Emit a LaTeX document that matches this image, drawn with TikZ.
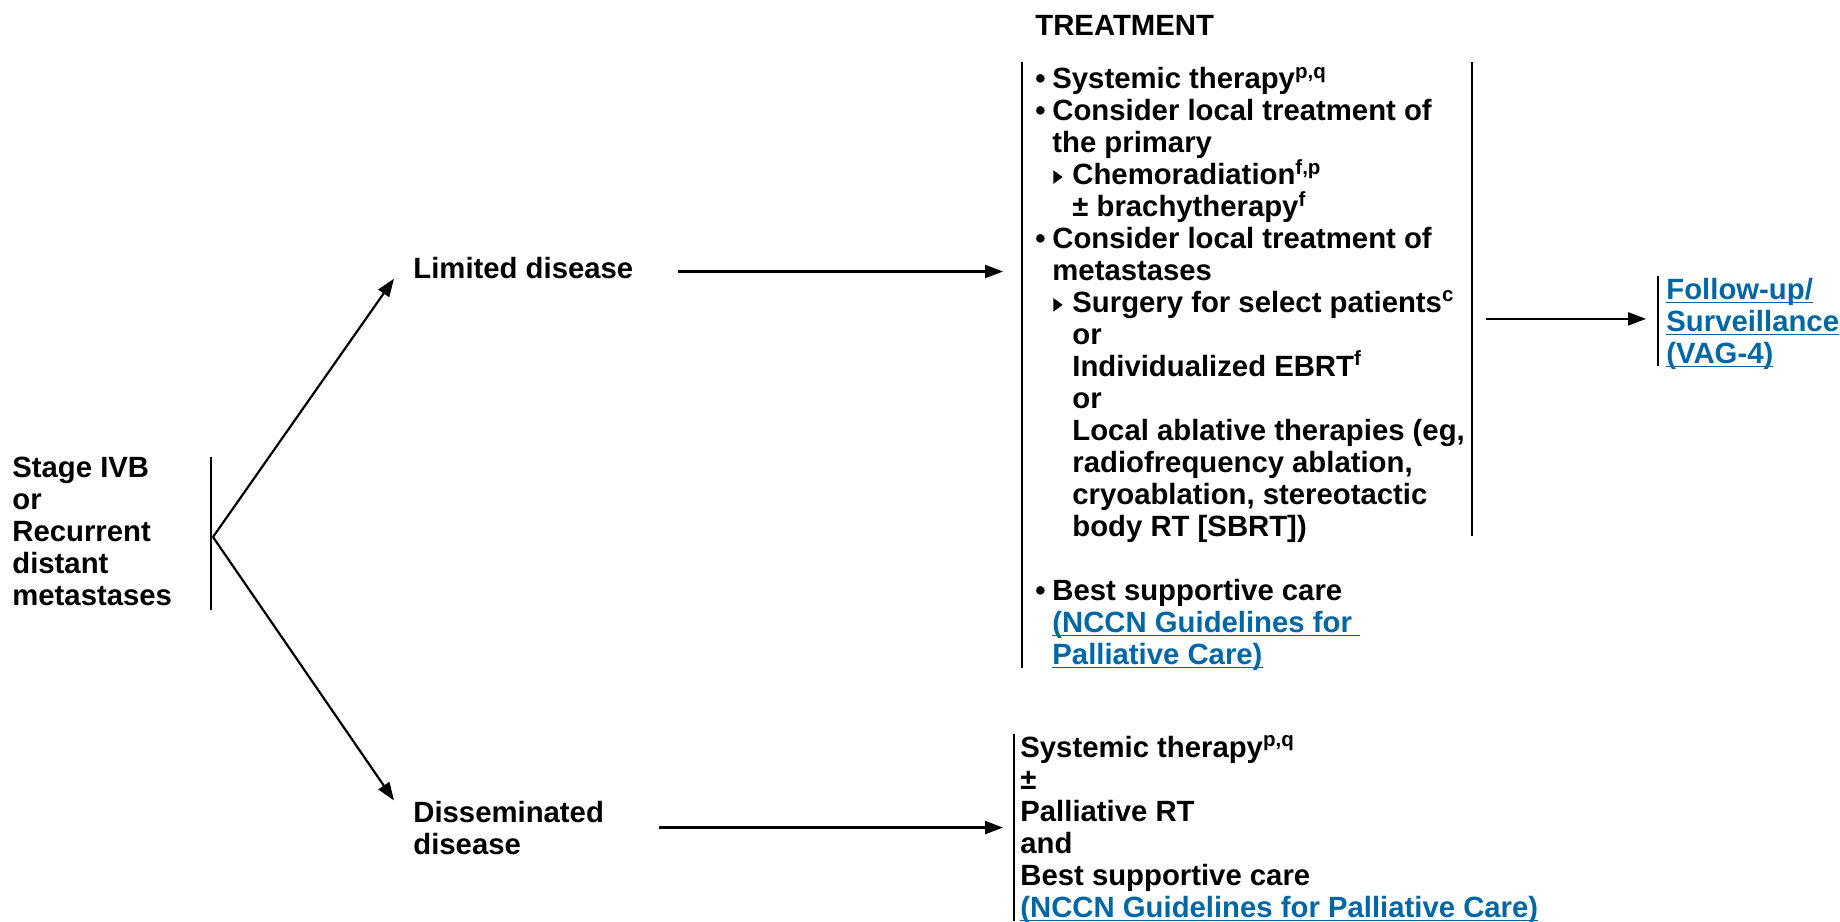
\documentclass[tikz,border=0pt]{standalone}
\usepackage{fontspec}
\setmainfont{Liberation Sans}
\usepackage{xcolor}
\usepackage{tikz}
\usetikzlibrary{positioning, arrows.meta}
\definecolor{nccnblue}{RGB}{0,103,166}

\newlength\ulwd
\newcommand\lnk[1]{\textcolor{nccnblue}{\settowidth\ulwd{#1}\rlap{\rule[-2pt]{\ulwd}{0.75pt}}#1}}
\newcommand\sps[1]{\textsuperscript{#1}}
\newcommand\tri{\tikz[baseline=0pt]\fill (0pt,0.4pt) -- (0pt,7.2pt) -- (4.6pt,3.8pt) -- cycle;}
\newcommand\bul{\makebox[8.5pt][l]{•}}
\newcommand\indA{\hspace*{8.5pt}}
\newcommand\subbul{\hspace*{9pt}\makebox[9.5pt][l]{\tri}}
\newcommand\indB{\hspace*{18.5pt}}

\begin{document}
\begin{tikzpicture}[x=0.5pt, y=-0.5pt,
    txt/.style = {anchor=base west, align=left, inner sep=0pt,
        font=\fontsize{14.65}{15.97}\selectfont\bfseries},
    bar/.style = {line width=1pt},
    arr/.style = {line width=1.1pt, -{Triangle[length=9pt, width=6.5pt]}}]
    \useasboundingbox (0,0) rectangle (1840,921);

    % multi-line nodes sit on the baseline of their last line
    \node[txt] (stage) at (12,605) {Stage IVB\\or\\Recurrent\\distant\\metastases};
    \node[txt] (lim) at (413,278) {Limited disease};
    \node[txt] (dis) at (413,854) {Disseminated\\disease};
    \node[txt] (head) at (1035,35) {TREATMENT};
    \node[txt] (treat) at (1035,536) {%
        \bul Systemic therapy\sps{p,q}\\
        \bul Consider local treatment of\\
        \indA the primary\\
        \subbul Chemoradiation\sps{f,p}\\
        \indB ± brachytherapy\sps{f}\\
        \bul Consider local treatment of\\
        \indA metastases\\
        \subbul Surgery for select patients\sps{c}\\
        \indB or\\
        \indB Individualized EBRT\sps{f}\\
        \indB or\\
        \indB Local ablative therapies (eg,\\
        \indB radiofrequency ablation,\\
        \indB cryoablation, stereotactic\\
        \indB body RT [SBRT])};
    \node[txt] (bsc) at (1035,664) {%
        \bul Best supportive care\\
        \indA\lnk{(NCCN Guidelines for }\\
        \indA\lnk{Palliative Care)}};
    \node[txt] (fol) at (1666,363) {\lnk{Follow-up/}\\\lnk{Surveillance}\\\lnk{(VAG-4)}};
    \node[txt] (pal) at (1020,917) {%
        Systemic therapy\sps{p,q}\\
        ±\\
        Palliative RT\\
        and\\
        Best supportive care\\
        \lnk{(NCCN Guidelines for Palliative Care)}};

    % brackets
    \draw[bar] (211,457) -- (211,610);
    \draw[bar] (1022,62) -- (1022,668);
    \draw[bar] (1472,62) coordinate (rbar) -- (1472,536);
    \draw[bar] (1658,276) -- (1658,366);
    \draw[bar] (1014,734) -- (1014,921);

    \coordinate (fork) at (213,537);
    \path[draw, arr] (fork) -- ([xshift=-9.5pt]lim.south west);
    \path[draw, arr] (fork) -- ([xshift=-9.5pt]dis.north west);
    \path[draw, arr] ([xshift=22pt, yshift=-2pt]lim.east)
        -- ([xshift=-16pt, yshift=-2pt]lim.east -| treat.west);
    \path[draw, arr] ([xshift=27.5pt]dis.east) -- ([xshift=-8.5pt]dis.east -| pal.west);
    \path[draw, arr] ([xshift=7pt, yshift=2.3pt]rbar |- fol.west)
        -- ([xshift=-10pt, yshift=2.3pt]fol.west);
\end{tikzpicture}
\end{document}
